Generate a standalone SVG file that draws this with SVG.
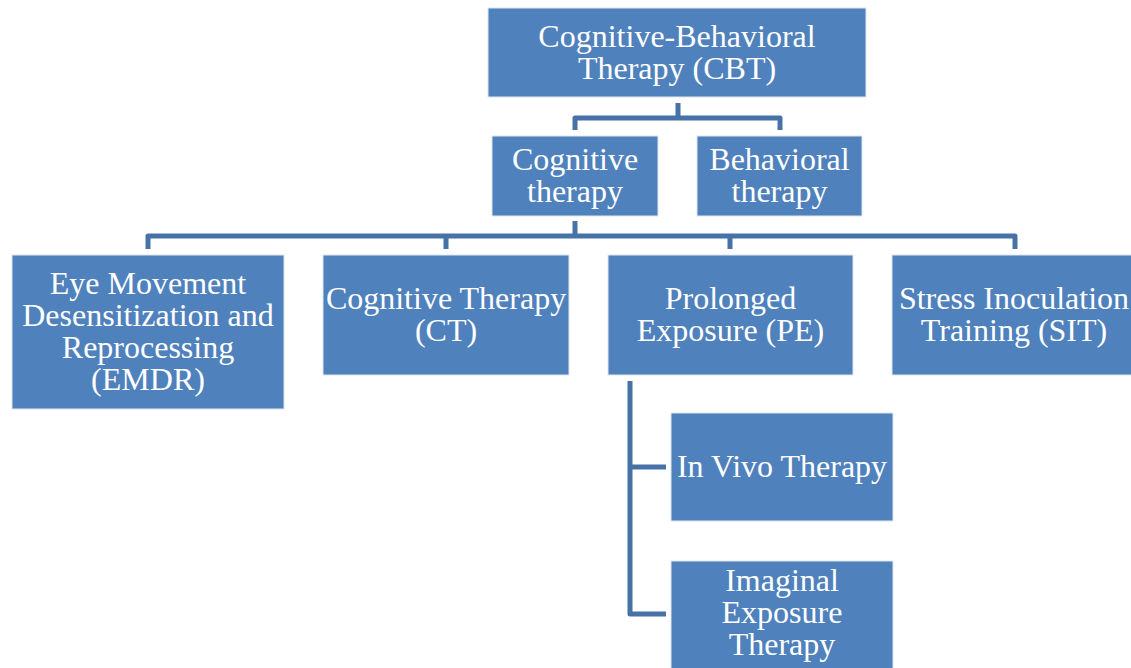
<svg xmlns="http://www.w3.org/2000/svg" width="1131" height="668" viewBox="0 0 1131 668">
<style>
.box{fill:#4F81BD;stroke:#dfe7f1;stroke-width:1}
.t{font-family:'Liberation Serif','Times New Roman',serif;font-size:32px;fill:#ffffff;text-anchor:middle}
.c{fill:none;stroke:#4672A8;stroke-width:5;stroke-linejoin:round}
</style>
<rect width="1131" height="668" fill="#ffffff"/>
<g id="connectors">
<path class="c" d="M678 103V118M575 130V118H780V130"/>
<path class="c" d="M575 221V236M148 249V236H1015V249M446 236V249M730 236V249"/>
<path class="c" d="M666 467H630V381M630 467V614H666"/>
</g>
<g id="cbt"><rect class="box" x="488" y="8" width="378" height="89"/>
<text class="t" x="677" y="47">Cognitive-Behavioral</text><text class="t" x="677" y="79">Therapy (CBT)</text></g>
<g id="cognitive"><rect class="box" x="492" y="136" width="166" height="80"/>
<text class="t" x="575" y="170">Cognitive</text><text class="t" x="575" y="202">therapy</text></g>
<g id="behavioral"><rect class="box" x="697" y="136" width="165" height="80"/>
<text class="t" x="779.5" y="170">Behavioral</text><text class="t" x="779.5" y="202">therapy</text></g>
<g id="emdr"><rect class="box" x="12" y="255" width="272" height="154"/>
<text class="t" x="148" y="294">Eye Movement</text><text class="t" x="148" y="326">Desensitization and</text><text class="t" x="148" y="358">Reprocessing</text><text class="t" x="148" y="390">(EMDR)</text></g>
<g id="ct"><rect class="box" x="323" y="255" width="246" height="120"/>
<text class="t" x="446" y="309">Cognitive Therapy</text><text class="t" x="446" y="341">(CT)</text></g>
<g id="pe"><rect class="box" x="608" y="255" width="245" height="120"/>
<text class="t" x="730.5" y="309">Prolonged</text><text class="t" x="730.5" y="341">Exposure (PE)</text></g>
<g id="sit"><rect class="box" x="892" y="255" width="245" height="120"/>
<text class="t" x="1014" y="309">Stress Inoculation</text><text class="t" x="1014" y="341">Training (SIT)</text></g>
<g id="invivo"><rect class="box" x="671" y="413" width="222" height="108"/>
<text class="t" x="782" y="477">In Vivo Therapy</text></g>
<g id="imaginal"><rect class="box" x="671" y="561" width="222" height="112"/>
<text class="t" x="782" y="591">Imaginal</text><text class="t" x="782" y="623">Exposure</text><text class="t" x="782" y="655">Therapy</text></g>
</svg>
